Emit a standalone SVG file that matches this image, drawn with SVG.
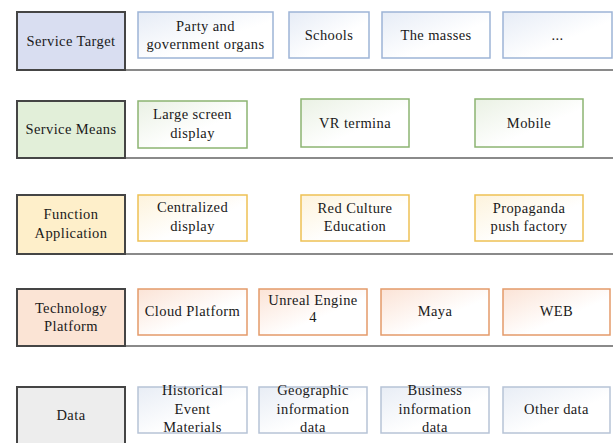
<svg xmlns="http://www.w3.org/2000/svg" width="613" height="443" viewBox="0 0 613 443">
<defs>
<linearGradient id="gB" x1="0" y1="0" x2="1" y2="1"><stop offset="0" stop-color="#E6ECF6"/><stop offset="0.6" stop-color="#FFFFFF"/></linearGradient>
<linearGradient id="gG" x1="0" y1="0" x2="1" y2="1"><stop offset="0" stop-color="#EAF1E4"/><stop offset="0.6" stop-color="#FFFFFF"/></linearGradient>
<linearGradient id="gY" x1="0" y1="0" x2="1" y2="1"><stop offset="0" stop-color="#FDF3DC"/><stop offset="0.6" stop-color="#FFFFFF"/></linearGradient>
<linearGradient id="gO" x1="0" y1="0" x2="1" y2="1"><stop offset="0" stop-color="#FBE3D6"/><stop offset="0.6" stop-color="#FFFFFF"/></linearGradient>
<linearGradient id="gD" x1="0" y1="0" x2="1" y2="1"><stop offset="0" stop-color="#E8EDF5"/><stop offset="0.6" stop-color="#FFFFFF"/></linearGradient>
</defs>
<style>
text{font-family:"Liberation Serif","Times New Roman",serif;font-size:14.5px;letter-spacing:0.4px;fill:#1a1a1a;text-anchor:middle}
.lab{stroke:#454545;stroke-width:2}
.sep{stroke:#8a8a8a;stroke-width:2}
.nB{fill:url(#gB);stroke:#9DB4D6;stroke-width:1.5}
.nG{fill:url(#gG);stroke:#8CB472;stroke-width:1.5}
.nY{fill:url(#gY);stroke:#EEC154;stroke-width:1.5}
.nO{fill:url(#gO);stroke:#E49A6A;stroke-width:1.5}
.nD{fill:url(#gD);stroke:#B7C3D6;stroke-width:1.5}
</style>
<rect width="613" height="443" fill="#FFFFFF"/>
<g id="connectors">
<line class="sep" x1="16" y1="70" x2="613" y2="70"/>
<line class="sep" x1="16" y1="158" x2="613" y2="158"/>
<line class="sep" x1="16" y1="254" x2="613" y2="254"/>
<line class="sep" x1="16" y1="346" x2="613" y2="346"/>
</g>
<g id="label-service-target"><rect class="lab" x="17" y="12" width="108" height="58" fill="#D9DEF1"/><text x="71" y="46">Service Target</text></g>
<g id="label-service-means"><rect class="lab" x="17" y="101" width="108" height="57" fill="#E2EFD9"/><text x="71" y="134">Service Means</text></g>
<g id="label-function"><rect class="lab" x="17" y="195" width="108" height="59" fill="#FEEFCA"/><text x="71" y="219">Function</text><text x="71" y="238">Application</text></g>
<g id="label-technology"><rect class="lab" x="17" y="289" width="108" height="57" fill="#FBE4D5"/><text x="71" y="313">Technology</text><text x="71" y="331">Platform</text></g>
<g id="label-data"><rect class="lab" x="17" y="387" width="108" height="60" fill="#EDEDED"/><text x="71" y="420">Data</text></g>

<g id="n-party"><rect class="nB" x="138" y="12" width="135" height="46"/><text x="205.5" y="31">Party and</text><text x="205.5" y="49">government organs</text></g>
<g id="n-schools"><rect class="nB" x="289" y="12" width="80" height="46"/><text x="329" y="40">Schools</text></g>
<g id="n-masses"><rect class="nB" x="382" y="12" width="108" height="46"/><text x="436" y="40">The masses</text></g>
<g id="n-etc"><rect class="nB" x="503" y="12" width="109" height="46"/><text x="557.5" y="40">...</text></g>

<g id="n-large"><rect class="nG" x="138" y="101" width="109" height="47"/><text x="192.5" y="119">Large screen</text><text x="192.5" y="138">display</text></g>
<g id="n-vr"><rect class="nG" x="301" y="99" width="108" height="48"/><text x="355" y="128">VR termina</text></g>
<g id="n-mobile"><rect class="nG" x="475" y="99" width="108" height="48"/><text x="529" y="128">Mobile</text></g>

<g id="n-central"><rect class="nY" x="138" y="195" width="109" height="46"/><text x="192.5" y="212">Centralized</text><text x="192.5" y="231">display</text></g>
<g id="n-red"><rect class="nY" x="301" y="195" width="108" height="46"/><text x="355" y="213">Red Culture</text><text x="355" y="231">Education</text></g>
<g id="n-prop"><rect class="nY" x="475" y="195" width="108" height="46"/><text x="529" y="213">Propaganda</text><text x="529" y="231">push factory</text></g>

<g id="n-cloud"><rect class="nO" x="138" y="289" width="109" height="46"/><text x="192.5" y="316">Cloud Platform</text></g>
<g id="n-unreal"><rect class="nO" x="259" y="289" width="108" height="46"/><text x="313" y="305">Unreal Engine</text><text x="313" y="322">4</text></g>
<g id="n-maya"><rect class="nO" x="381" y="289" width="108" height="46"/><text x="435" y="316">Maya</text></g>
<g id="n-web"><rect class="nO" x="503" y="289" width="107" height="46"/><text x="556.5" y="316">WEB</text></g>

<g id="n-hist"><rect class="nD" x="138" y="387" width="109" height="46"/><text x="192.5" y="395">Historical</text><text x="192.5" y="414">Event</text><text x="192.5" y="432">Materials</text></g>
<g id="n-geo"><rect class="nD" x="259" y="387" width="108" height="46"/><text x="313" y="395">Geographic</text><text x="313" y="414">information</text><text x="313" y="432">data</text></g>
<g id="n-bus"><rect class="nD" x="381" y="387" width="108" height="46"/><text x="435" y="395">Business</text><text x="435" y="414">information</text><text x="435" y="432">data</text></g>
<g id="n-other"><rect class="nD" x="503" y="387" width="107" height="46"/><text x="556.5" y="414">Other data</text></g>
</svg>
